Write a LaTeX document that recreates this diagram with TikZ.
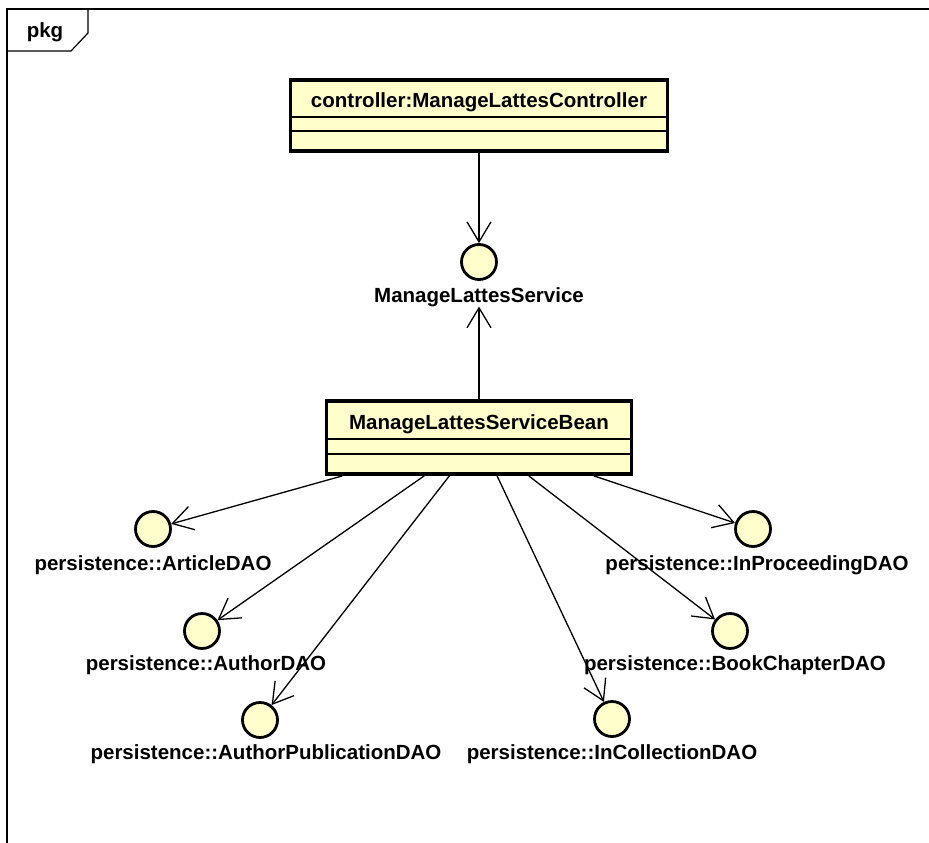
\documentclass[tikz,border=0pt]{standalone}
\usepackage{fontspec}
\setmainfont{Liberation Sans}
\usetikzlibrary{arrows.meta}
\definecolor{umlfill}{HTML}{FFFFCC}
\begin{document}
\begin{tikzpicture}[x=1pt,y=-1pt,
  lbl/.style={font=\fontsize{20.5}{24}\selectfont\bfseries, inner sep=0pt, anchor=base},
  classbox/.style={draw, line width=3.8pt, fill=umlfill, inner sep=0pt},
  compline/.style={line width=1.4pt},
  iface/.style={circle, draw, line width=2.8pt, fill=umlfill, minimum size=35pt, inner sep=0pt},
  conn/.style={line width=1.3pt, -{Straight Barb[length=20pt,width=24pt]}},
  frameline/.style={line width=1.2pt}
]
\useasboundingbox (0,0) rectangle (929,843);

% package frame with its name tab
\draw[frameline] (929,9) -- (7,9) -- (7,843);
\draw[frameline] (88,9) -- (88,33) -- (71,51) -- (7,51);
\node[lbl] (pkg) at (45,38) {pkg};

% controller class
\node[classbox, minimum width=377pt, minimum height=71pt] (ctrl) at (479,115.5) {};
\node[lbl] (ctrltext) at (479,107) {controller:ManageLattesController};
\draw[compline] ([yshift=-39pt]ctrl.north west) -- ([yshift=-39pt]ctrl.north east);
\draw[compline] ([yshift=-53pt]ctrl.north west) -- ([yshift=-53pt]ctrl.north east);

% service interface
\node[iface] (svc) at (479,262) {};
\node[lbl] (svctext) at (479,302) {ManageLattesService};

% service bean class
\node[classbox, minimum width=305pt, minimum height=73pt] (bean) at (479,437.5) {};
\node[lbl] (beantext) at (479,429) {ManageLattesServiceBean};
\draw[compline] ([yshift=-40pt]bean.north west) -- ([yshift=-40pt]bean.north east);
\draw[compline] ([yshift=-55pt]bean.north west) -- ([yshift=-55pt]bean.north east);

% DAO interfaces
\node[iface] (art) at (153,529) {};
\node[lbl] (arttext) at (153,570) {persistence::ArticleDAO};
\node[iface] (auth) at (202,631) {};
\node[lbl] (authtext) at (206,670) {persistence::AuthorDAO};
\node[iface] (authpub) at (260,720) {};
\node[lbl] (authpubtext) at (266,759) {persistence::AuthorPublicationDAO};
\node[iface] (inproc) at (753,529) {};
\node[lbl] (inproctext) at (757,570) {persistence::InProceedingDAO};
\node[iface] (book) at (730,631) {};
\node[lbl] (booktext) at (735,670) {persistence::BookChapterDAO};
\node[iface] (incoll) at (612,719) {};
\node[lbl] (incolltext) at (612,759) {persistence::InCollectionDAO};

% dependencies
\draw[conn] (ctrl) -- (svc);
\draw[conn] (bean) -- (svctext);
\draw[conn] (bean) -- (art);
\draw[conn] (bean) -- (auth);
\draw[conn] (bean) -- (authpub);
\draw[conn] (bean) -- (incoll);
\draw[conn] (bean) -- (book);
\draw[conn] (bean) -- (inproc);
\end{tikzpicture}
\end{document}
